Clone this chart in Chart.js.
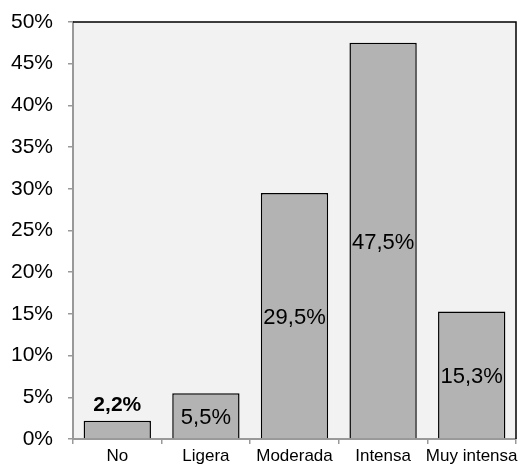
<!DOCTYPE html>
<html>
<head>
<meta charset="utf-8">
<script src="https://cdn.jsdelivr.net/npm/chart.js@4/dist/chart.umd.min.js"></script>
<style>
  html, body { margin: 0; padding: 0; background: #ffffff; }
  #wrap { width: 521px; height: 468px; }
</style>
</head>
<body>
<div id="wrap"><canvas id="c" width="521" height="468"></canvas></div>
<script>
const categories = ['No', 'Ligera', 'Moderada', 'Intensa', 'Muy intensa'];
const values = [2.2, 5.5, 29.5, 47.5, 15.3];
const yTicks = [0, 5, 10, 15, 20, 25, 30, 35, 40, 45, 50];

const FONT = '"Liberation Sans", Arial, sans-serif';
const fmt = v => v.toFixed(1).replace('.', ',') + '%';

// Plot background plus the dark top and right frame lines
const frame = {
  id: 'frame',
  beforeDraw(chart) {
    const { ctx, chartArea: a } = chart;
    ctx.save();
    ctx.fillStyle = '#f2f2f2';
    ctx.fillRect(a.left, a.top, a.right - a.left, a.bottom - a.top);
    ctx.restore();
  },
  afterDatasetsDraw(chart) {
    const { ctx, chartArea: a } = chart;
    ctx.save();
    ctx.strokeStyle = '#000000';
    ctx.lineWidth = 1.5;
    ctx.beginPath();
    ctx.moveTo(a.left, a.top);
    ctx.lineTo(a.right, a.top);
    ctx.lineTo(a.right, a.bottom);
    ctx.stroke();
    ctx.restore();
  }
};

// Value labels: the first sits bold above its bar, the rest centred inside
const valueLabels = {
  id: 'valueLabels',
  afterDatasetsDraw(chart) {
    const { ctx } = chart;
    const meta = chart.getDatasetMeta(0);
    ctx.save();
    ctx.fillStyle = '#000000';
    ctx.textAlign = 'center';
    meta.data.forEach((bar, i) => {
      const v = values[i];
      if (i === 0) {
        ctx.font = 'bold 21px ' + FONT;
        ctx.textBaseline = 'bottom';
        ctx.fillText(fmt(v), bar.x, bar.y - 5);
      } else {
        ctx.font = '22px ' + FONT;
        ctx.textBaseline = 'middle';
        ctx.fillText(fmt(v), bar.x, (bar.y + bar.base) / 2 + 2);
      }
    });
    ctx.restore();
  }
};

new Chart(document.getElementById('c'), {
  type: 'bar',
  data: {
    labels: categories,
    datasets: [{
      data: values,
      backgroundColor: '#b3b3b3',
      borderColor: '#000000',
      borderWidth: 1.5,
      borderSkipped: 'bottom',
      barPercentage: 0.76,
      categoryPercentage: 1.0
    }]
  },
  options: {
    responsive: false,
    animation: false,
    devicePixelRatio: 1,
    layout: { padding: { top: 22, right: 5, left: 0, bottom: 0 } },
    plugins: { legend: { display: false }, tooltip: { enabled: false } },
    scales: {
      x: {
        grid: {
          offset: true,
          drawOnChartArea: false,
          drawTicks: true,
          tickLength: 5,
          color: '#999999',
          lineWidth: 1.5
        },
        border: { color: '#999999', width: 2 },
        ticks: {
          color: '#000000',
          font: { family: FONT, size: 17 },
          padding: 2,
          maxRotation: 0,
          autoSkip: false
        },
        afterFit(scale) { scale.height = 29; }
      },
      y: {
        min: 0,
        max: 50,
        afterBuildTicks(scale) { scale.ticks = yTicks.map(v => ({ value: v })); },
        grid: {
          drawOnChartArea: false,
          drawTicks: true,
          tickLength: 5,
          color: '#999999',
          lineWidth: 1.5
        },
        border: { color: '#999999', width: 2 },
        ticks: {
          color: '#000000',
          font: { family: FONT, size: 21 },
          padding: 15,
          callback: v => v + '%'
        },
        afterFit(scale) {
          scale.width = 73;
          scale.paddingTop = 0;
          scale.paddingBottom = 0;
        }
      }
    }
  },
  plugins: [frame, valueLabels]
});
</script>
</body>
</html>
